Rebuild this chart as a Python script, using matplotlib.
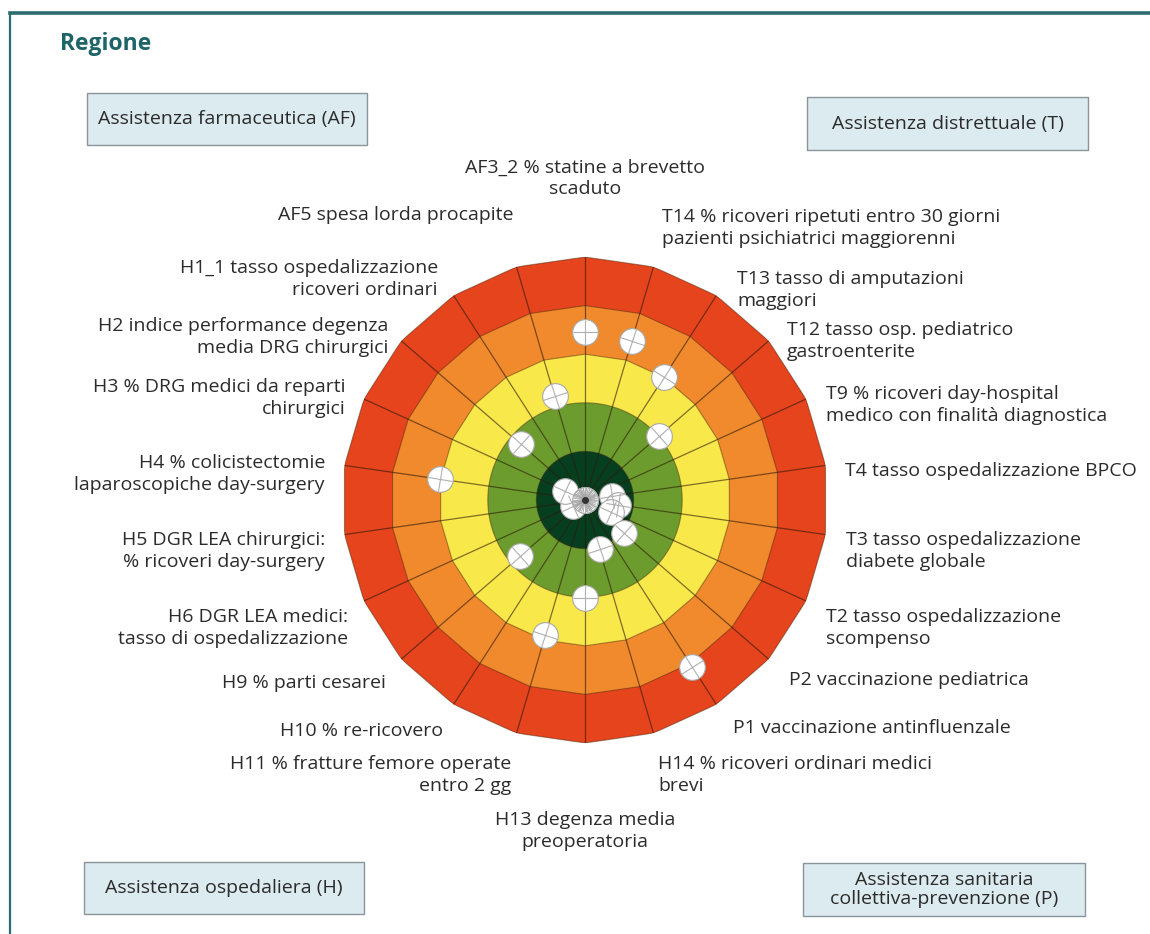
import numpy as np
import matplotlib
matplotlib.use("Agg")
import matplotlib.pyplot as plt
from matplotlib.markers import MarkerStyle
from matplotlib.transforms import Affine2D
from matplotlib.patches import Rectangle
from matplotlib.lines import Line2D

# ---------------- data ----------------
indicators = ["AF3_2", "T14", "T13", "T12", "T9", "T4", "T3", "T2", "P2", "P1",
              "H14", "H13", "H11", "H10", "H9", "H6", "H5", "H4", "H3", "H2",
              "H1_1", "AF5"]
labels = [
    "AF3_2 % statine a brevetto\nscaduto",
    "T14 % ricoveri ripetuti entro 30 giorni\npazienti psichiatrici maggiorenni",
    "T13 tasso di amputazioni\nmaggiori",
    "T12 tasso osp. pediatrico\ngastroenterite",
    "T9 % ricoveri day-hospital\nmedico con finalità diagnostica",
    "T4 tasso ospedalizzazione BPCO",
    "T3 tasso ospedalizzazione\ndiabete globale",
    "T2 tasso ospedalizzazione\nscompenso",
    "P2 vaccinazione pediatrica",
    "P1 vaccinazione antinfluenzale",
    "H14 % ricoveri ordinari medici\nbrevi",
    "H13 degenza media\npreoperatoria",
    "H11 % fratture femore operate\nentro 2 gg",
    "H10 % re-ricovero",
    "H9 % parti cesarei",
    "H6 DGR LEA medici:\ntasso di ospedalizzazione",
    "H5 DGR LEA chirurgici:\n% ricoveri day-surgery",
    "H4 % colicistectomie\nlaparoscopiche day-surgery",
    "H3 % DRG medici da reparti\nchirurgici",
    "H2 indice performance degenza\nmedia DRG chirurgici",
    "H1_1 tasso ospedalizzazione\nricoveri ordinari",
    "AF5 spesa lorda procapite",
]
# performance score 0 (outer edge, worst) .. 5 (centre, best)
scores = [1.55, 1.58, 2.00, 2.99, 5.00, 4.44, 4.32, 4.42, 3.95, 0.92,
          3.94, 2.98, 2.11, 5.00, 3.24, 4.72, 5.00, 1.99, 4.55, 3.25,
          5.00, 2.78]
band_edges = [0, 1, 2, 3, 4]          # outer boundary of each band (score)
band_colors = ["#E5441D", "#F08A2C", "#F9E84A", "#6C9C2E", "#063E20"]
areas = ["Assistenza farmaceutica (AF)", "Assistenza distrettuale (T)",
         "Assistenza ospedaliera (H)", "Assistenza sanitaria\ncollettiva-prevenzione (P)"]
title = "Regione"

# ---------------- layout (pixels) ----------------
W, H = 1150, 934
CX, CY, R = 585, 500, 243
label_pos = [
    (585, 178, "center"), (662, 228, "left"), (737, 290, "left"), (787, 341, "left"),
    (826, 405, "left"), (845, 471, "left"), (846, 551, "left"), (826, 628, "left"),
    (789, 680, "left"), (733, 728, "left"), (658, 775, "left"), (585, 831, "center"),
    (511, 775, "right"), (443, 731, "right"), (386, 683, "right"), (348, 628, "right"),
    (325, 551, "right"), (325, 474, "right"), (346, 398, "right"), (388, 337, "right"),
    (438, 279, "right"), (513, 215, "right"),
]
box_rects = [(87, 93, 280, 52), (807, 97, 281, 53), (84, 862, 280, 52), (803, 863, 282, 53)]

FONT = ["Open Sans", "DejaVu Sans"]
TXT = "#2b2b2b"
FS = 14.0
LS = 1.22

fig = plt.figure(figsize=(W / 100, H / 100), dpi=100)
fig.patch.set_facecolor("white")

def fx(x):
    return x / W

def fy(y):
    return 1 - y / H

# frame
fig.add_artist(Line2D([fx(10), fx(1150)], [fy(13), fy(13)], color="#2D6B6E", lw=2.6,
                      transform=fig.transFigure))
fig.add_artist(Line2D([fx(10), fx(10)], [fy(13), fy(934)], color="#2D6B6E", lw=1.6,
                      transform=fig.transFigure))

fig.text(fx(60), fy(44), title, fontsize=16.5, fontweight="bold", color="#1E6468",
         family=FONT, ha="left", va="center")

# area boxes
for (x, y, w, h), txt in zip(box_rects, areas):
    fig.add_artist(Rectangle((fx(x), fy(y + h)), w / W, h / H, transform=fig.transFigure,
                             facecolor="#DCEBF0", edgecolor="#8A9499", lw=1.0))
    fig.text(fx(x + w / 2), fy(y + h / 2), txt, fontsize=FS, color=TXT, family=FONT,
             ha="center", va="center", multialignment="center", linespacing=1.12)

# target
ax = fig.add_axes([fx(CX - R), fy(CY + R), 2 * R / W, 2 * R / H], projection="polar")
ax.set_theta_zero_location("N")
ax.set_theta_direction(-1)
ax.set_ylim(5, 0)
ax.set_axis_off()

n = len(indicators)
theta = np.arange(n) * 2 * np.pi / n
theta_closed = np.append(theta, theta[0])
theta_fine = np.linspace(0, 2 * np.pi, 361)

for i, (edge, col) in enumerate(zip(band_edges, band_colors)):
    if i < 3:
        th_, r_ = theta_closed, np.full(n + 1, edge)
    else:
        th_, r_ = theta_fine, np.full(theta_fine.size, edge)
    ax.fill(th_, r_, facecolor=col, edgecolor=(0.25, 0.15, 0.05, 0.45), lw=0.8, zorder=1)

for th in theta:
    ax.plot([th, th], [5, 0], color=(0.18, 0.1, 0.04, 0.6), lw=0.9, zorder=2)

for th, s in zip(theta, scores):
    ax.plot([th], [s], marker="o", markersize=18.5, markerfacecolor="white",
            markeredgecolor="#a8a8a8", markeredgewidth=0.8, zorder=3, clip_on=False)
    m = MarkerStyle("+", transform=Affine2D().rotate(-th))
    ax.plot([th], [s], marker=m, markersize=18, markeredgecolor="#b0b0b0",
            markeredgewidth=0.8, zorder=4, clip_on=False)

# centre hub rosette
for th in np.linspace(0, 2 * np.pi, 44, endpoint=False):
    ax.plot([th, th], [5, 4.76], color="#a5a5a5", lw=0.6, zorder=5)
ax.plot([0], [5], marker="o", markersize=4, color="#333333", zorder=6)

# indicator labels
for (x, y, ha), txt in zip(label_pos, labels):
    fig.text(fx(x), fy(y), txt, fontsize=FS, color=TXT, family=FONT, ha=ha, va="center",
             multialignment=ha, linespacing=LS)

fig.savefig("out.png", dpi=100)
